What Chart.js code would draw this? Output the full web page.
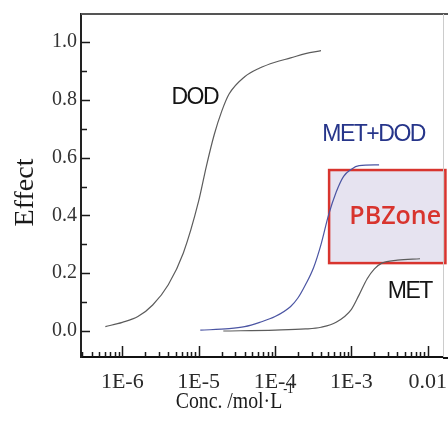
<!DOCTYPE html>
<html>
<head>
<meta charset="utf-8">
<title>Effect vs concentration</title>
<script src="https://cdn.jsdelivr.net/npm/chart.js@4.4.1/dist/chart.umd.min.js"></script>
<style>
  html, body { margin: 0; padding: 0; background: #fff; }
  canvas { display: block; }
</style>
</head>
<body>
<canvas id="chart" width="448" height="433"></canvas>
<script>
// concentration (mol/L) vs effect
const dodConc   = [6.0e-7, 1.0e-6, 1.6e-6, 2.5e-6, 4.0e-6, 6.3e-6, 1.0e-5, 1.26e-5, 1.6e-5, 2.0e-5, 2.5e-5, 4.0e-5, 6.3e-5, 1.0e-4, 1.6e-4, 2.5e-4, 4.0e-4];
const dodEffect = [0.015, 0.03, 0.05, 0.09, 0.16, 0.27, 0.45, 0.57, 0.68, 0.76, 0.82, 0.88, 0.91, 0.93, 0.945, 0.96, 0.97];

const mixConc   = [1.05e-5, 2.5e-5, 4.0e-5, 6.3e-5, 1.0e-4, 1.6e-4, 2.0e-4, 2.5e-4, 3.2e-4, 4.0e-4, 5.0e-4, 6.3e-4, 7.9e-4, 1.0e-3, 1.26e-3, 2.3e-3];
const mixEffect = [0.003, 0.008, 0.015, 0.03, 0.05, 0.085, 0.115, 0.16, 0.22, 0.30, 0.40, 0.48, 0.535, 0.56, 0.572, 0.575];

const metConc   = [2.1e-5, 1.0e-4, 2.5e-4, 4.0e-4, 6.3e-4, 1.0e-3, 1.26e-3, 1.6e-3, 2.0e-3, 2.5e-3, 4.0e-3, 7.9e-3];
const metEffect = [0.0, 0.003, 0.007, 0.013, 0.03, 0.075, 0.125, 0.18, 0.215, 0.235, 0.245, 0.25];

// axes
const xTickValues = [1e-6, 1e-5, 1e-4, 1e-3, 1e-2];
const xTickLabels = ['1E-6', '1E-5', '1E-4', '1E-3', '0.01'];
const xMinorValues = [
  3e-7, 4e-7, 5e-7, 6e-7, 7e-7, 8e-7, 9e-7,
  2e-6, 3e-6, 4e-6, 5e-6, 6e-6, 7e-6, 8e-6, 9e-6,
  2e-5, 3e-5, 4e-5, 5e-5, 6e-5, 7e-5, 8e-5, 9e-5,
  2e-4, 3e-4, 4e-4, 5e-4, 6e-4, 7e-4, 8e-4, 9e-4,
  2e-3, 3e-3, 4e-3, 5e-3, 6e-3, 7e-3, 8e-3, 9e-3
];
const yTickValues = [0, 0.2, 0.4, 0.6, 0.8, 1.0];
const yTickLabels = ['0.0', '0.2', '0.4', '0.6', '0.8', '1.0'];
const yMinorValues = [0.1, 0.3, 0.5, 0.7, 0.9];

// PBZone rectangle (conc range, effect range)
const pbZoneConc = [5.1e-4, 1.7e-2];
const pbZoneEffect = [0.235, 0.557];

// curve labels placed in data coordinates
const curveNotes = [
  { text: 'DOD', conc: 8.9e-6, effect: 0.806, color: '#151515' },
  { text: 'MET+DOD', conc: 1.95e-3, effect: 0.678, color: '#26358a' },
  { text: 'MET', conc: 5.8e-3, effect: 0.135, color: '#151515' }
];

function toPoints(conc, eff) {
  return conc.map((c, i) => ({ x: c, y: eff[i] }));
}

// frame, inward ticks, box and text
const decorations = {
  id: 'decorations',
  beforeDatasetsDraw(chart) {
    const { ctx, scales: { x, y } } = chart;
    const left = x.getPixelForValue(pbZoneConc[0]);
    const right = x.getPixelForValue(pbZoneConc[1]);
    const top = y.getPixelForValue(pbZoneEffect[1]);
    const bottom = y.getPixelForValue(pbZoneEffect[0]);
    ctx.save();
    ctx.fillStyle = '#e6e3f0';
    ctx.fillRect(left, top, right - left, bottom - top);
    ctx.strokeStyle = '#d8342e';
    ctx.lineWidth = 2.5;
    ctx.strokeRect(left, top, right - left, bottom - top);
    ctx.fillStyle = '#d8342e';
    ctx.font = '600 25px "Open Sans"';
    ctx.textAlign = 'center';
    ctx.textBaseline = 'middle';
    ctx.fillText('PBZone', (left + right) / 2 + 8, (top + bottom) / 2);
    ctx.restore();
  },
  afterDraw(chart) {
    const { ctx, chartArea: a, scales: { x, y } } = chart;
    ctx.save();

    // top and right frame
    ctx.strokeStyle = '#555';
    ctx.lineWidth = 2;
    ctx.beginPath();
    ctx.moveTo(a.left, a.top);
    ctx.lineTo(chart.width, a.top);
    ctx.stroke();
    ctx.strokeStyle = '#ccc';
    ctx.lineWidth = 1;
    ctx.beginPath();
    ctx.moveTo(a.right + 0.5, a.top);
    ctx.lineTo(a.right + 0.5, a.bottom);
    ctx.stroke();
    // bottom axis runs on to the edge
    ctx.strokeStyle = '#111';
    ctx.lineWidth = 2;
    ctx.beginPath();
    ctx.moveTo(a.right, a.bottom + 1);
    ctx.lineTo(chart.width, a.bottom + 1);
    ctx.stroke();

    // ticks pointing inward
    ctx.strokeStyle = '#1a1a1a';
    ctx.lineWidth = 1.5;
    ctx.beginPath();
    xTickValues.forEach(v => {
      const px = Math.round(x.getPixelForValue(v)) + 0.5;
      ctx.moveTo(px, a.bottom);
      ctx.lineTo(px, a.bottom - 11);
    });
    xMinorValues.forEach(v => {
      const px = Math.round(x.getPixelForValue(v)) + 0.5;
      ctx.moveTo(px, a.bottom);
      ctx.lineTo(px, a.bottom - 5);
    });
    yTickValues.forEach(v => {
      const py = Math.round(y.getPixelForValue(v)) + 0.5;
      ctx.moveTo(a.left, py);
      ctx.lineTo(a.left + 9, py);
    });
    yMinorValues.forEach(v => {
      const py = Math.round(y.getPixelForValue(v)) + 0.5;
      ctx.moveTo(a.left, py);
      ctx.lineTo(a.left + 6, py);
    });
    ctx.stroke();

    // curve labels
    ctx.font = '23px "Liberation Sans"';
    ctx.textAlign = 'center';
    ctx.textBaseline = 'middle';
    ctx.letterSpacing = '-1.5px';
    curveNotes.forEach(n => {
      ctx.fillStyle = n.color;
      ctx.fillText(n.text, x.getPixelForValue(n.conc), y.getPixelForValue(n.effect));
    });
    ctx.letterSpacing = '0px';

    // y axis title
    ctx.fillStyle = '#1a1a1a';
    ctx.save();
    ctx.translate(24, (a.top + a.bottom) / 2 + 7);
    ctx.rotate(-Math.PI / 2);
    ctx.font = '28px "Liberation Serif"';
    ctx.textBaseline = 'middle';
    ctx.fillText('Effect', 0, 2);
    ctx.restore();

    // x axis title with superscript, slightly condensed like the original
    ctx.textAlign = 'left';
    ctx.textBaseline = 'alphabetic';
    const cx = (a.left + a.right) / 2 - 28;
    ctx.save();
    ctx.translate(cx, 408);
    ctx.scale(0.86, 1);
    ctx.font = '23px "Liberation Serif"';
    const main = 'Conc. /mol\u00b7L';
    const w = ctx.measureText(main).width;
    ctx.font = '14px "Liberation Serif"';
    const ws = ctx.measureText('-1').width;
    const sx = -(w + ws) / 2;
    ctx.font = '23px "Liberation Serif"';
    ctx.fillText(main, sx, 0);
    ctx.font = '14px "Liberation Serif"';
    ctx.fillText('-1', sx + w + 1, -15);
    ctx.restore();

    ctx.restore();
  }
};

new Chart(document.getElementById('chart'), {
  type: 'line',
  data: {
    datasets: [
      { label: 'DOD', data: toPoints(dodConc, dodEffect), borderColor: '#5c5c5c' },
      { label: 'MET+DOD', data: toPoints(mixConc, mixEffect), borderColor: '#4b55a3' },
      { label: 'MET', data: toPoints(metConc, metEffect), borderColor: '#5c5c5c' }
    ]
  },
  options: {
    responsive: false,
    animation: false,
    layout: { padding: { top: 14, right: 5, left: 0, bottom: 0 } },
    elements: {
      point: { radius: 0 },
      line: { borderWidth: 1.2, cubicInterpolationMode: 'monotone' }
    },
    plugins: {
      legend: { display: false },
      tooltip: { enabled: false }
    },
    scales: {
      x: {
        type: 'logarithmic',
        min: 2.88e-7,
        max: 1.58e-2,
        afterBuildTicks: scale => { scale.ticks = xTickValues.map(v => ({ value: v })); },
        afterFit: scale => {
          scale.height = 76;
          scale.paddingLeft = 0;
          scale.paddingRight = 0;
        },
        grid: { display: false, drawTicks: false },
        border: { display: true, color: '#111', width: 2 },
        ticks: {
          autoSkip: false,
          maxRotation: 0,
          padding: 12,
          color: '#2a2a2a',
          font: { family: 'Liberation Serif', size: 22 },
          callback: (v, i) => xTickLabels[i]
        }
      },
      y: {
        type: 'linear',
        min: -0.09,
        max: 1.097,
        afterBuildTicks: scale => { scale.ticks = yTickValues.map(v => ({ value: v })); },
        afterFit: scale => {
          scale.width = 81;
          scale.paddingTop = 0;
          scale.paddingBottom = 0;
        },
        grid: { display: false, drawTicks: false },
        border: { display: true, color: '#222', width: 2 },
        ticks: {
          padding: 4,
          color: '#333',
          font: { family: 'Liberation Serif', size: 20 },
          callback: (v, i) => yTickLabels[i]
        }
      }
    }
  },
  plugins: [decorations]
});
</script>
</body>
</html>
